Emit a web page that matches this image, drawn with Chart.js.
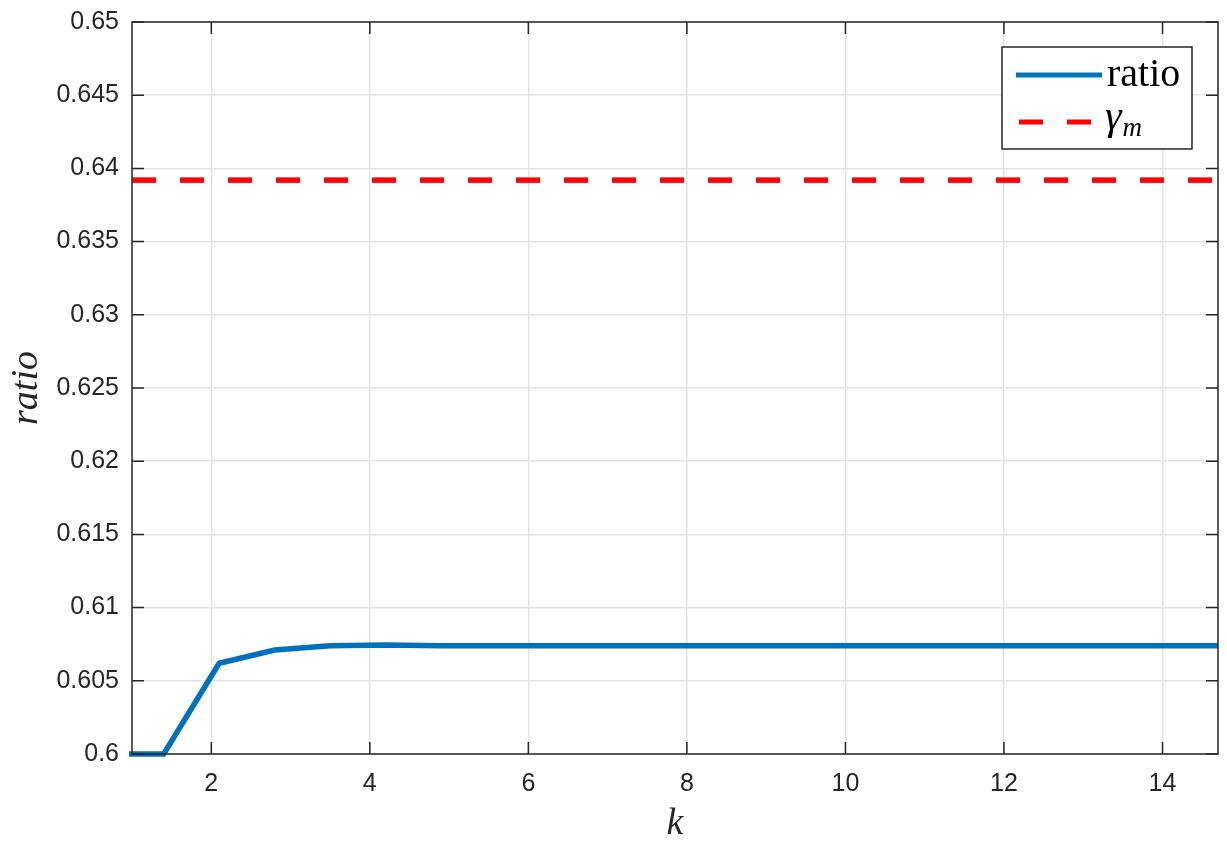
<!DOCTYPE html>
<html>
<head>
<meta charset="utf-8">
<script src="https://cdn.jsdelivr.net/npm/chart.js@4.4.0/dist/chart.umd.min.js"></script>
<style>
  html, body { margin: 0; padding: 0; background: #fff; }
</style>
</head>
<body>
<canvas id="ratioChart" width="1227" height="843"></canvas>
<script>
// chart data
const kValues = [0.7, 1.4, 2.1, 2.8, 3.5, 4.2, 4.9, 5.6, 6.3, 7.0, 7.7,
                 8.4, 9.1, 9.8, 10.5, 11.2, 11.9, 12.6, 13.3, 14.0, 14.7];
const ratioValues = [0.6, 0.6, 0.6062, 0.6071, 0.6074, 0.60745, 0.6074, 0.6074, 0.6074, 0.6074, 0.6074,
                     0.6074, 0.6074, 0.6074, 0.6074, 0.6074, 0.6074, 0.6074, 0.6074, 0.6074, 0.6074];
const gammaK = [1, 14.7];
const gammaValues = [0.6392, 0.6392];
const xTicks = [2, 4, 6, 8, 10, 12, 14];
const yTicks = [0.6, 0.605, 0.61, 0.615, 0.62, 0.625, 0.63, 0.635, 0.64, 0.645, 0.65];

const AXIS_COLOR = '#262626';
const BLUE = '#0072BD';
const RED = '#FF0000';

// box, inward ticks and legend, MATLAB style
const boxPlugin = {
    id: 'boxPlugin',
    afterDatasetsDraw(chart) {
        const ctx = chart.ctx;
        const { left, right, top, bottom } = chart.chartArea;
        const xs = chart.scales.x, ys = chart.scales.y;
        const tl = 12;

        ctx.save();
        ctx.strokeStyle = AXIS_COLOR;
        ctx.lineWidth = 1.5;
        ctx.strokeRect(left, top, right - left, bottom - top);

        ctx.beginPath();
        xTicks.forEach(v => {
            const px = xs.getPixelForValue(v);
            ctx.moveTo(px, bottom); ctx.lineTo(px, bottom - tl);
            ctx.moveTo(px, top); ctx.lineTo(px, top + tl);
        });
        yTicks.forEach(v => {
            const py = ys.getPixelForValue(v);
            ctx.moveTo(left, py); ctx.lineTo(left + tl, py);
            ctx.moveTo(right, py); ctx.lineTo(right - tl, py);
        });
        ctx.stroke();

        // legend box
        const lx = right - 216, ly = top + 25, lw = 190, lh = 102;
        ctx.fillStyle = '#fff';
        ctx.fillRect(lx, ly, lw, lh);
        ctx.strokeRect(lx, ly, lw, lh);

        ctx.lineWidth = 5;
        ctx.strokeStyle = BLUE;
        ctx.beginPath();
        ctx.moveTo(lx + 14, ly + 28); ctx.lineTo(lx + 100, ly + 28);
        ctx.stroke();

        ctx.strokeStyle = RED;
        ctx.setLineDash([24, 24]);
        ctx.beginPath();
        ctx.moveTo(lx + 17, ly + 75); ctx.lineTo(lx + 89, ly + 75);
        ctx.stroke();
        ctx.setLineDash([]);

        ctx.fillStyle = '#000';
        ctx.textBaseline = 'alphabetic';
        ctx.textAlign = 'left';
        ctx.font = '40px "Liberation Serif"';
        ctx.fillText('ratio', lx + 105, ly + 39);
        ctx.font = 'italic 42px "Liberation Serif"';
        ctx.fillText('γ', lx + 103, ly + 82);
        const gw = ctx.measureText('γ').width;
        ctx.font = 'italic 27px "Liberation Serif"';
        ctx.fillText('m', lx + 103 + gw + 1, ly + 89);
        ctx.restore();
    }
};

const ctx = document.getElementById('ratioChart').getContext('2d');
const chart = new Chart(ctx, {
    type: 'line',
    data: {
        datasets: [{
            label: 'ratio',
            data: kValues.map((k, i) => ({ x: k, y: ratioValues[i] })),
            borderColor: BLUE,
            borderWidth: 5.5,
            pointRadius: 0,
            tension: 0,
            clip: { left: 3, right: 5, top: 3, bottom: 3 }
        }, {
            label: 'γm',
            data: gammaK.map((k, i) => ({ x: k, y: gammaValues[i] })),
            borderColor: RED,
            borderWidth: 5.5,
            borderDash: [24, 24],
            pointRadius: 0,
            tension: 0
        }]
    },
    options: {
        responsive: false,
        animation: false,
        devicePixelRatio: 1,
        layout: { padding: { left: 0, top: 22, right: 9, bottom: 0 } },
        plugins: {
            legend: { display: false },
            tooltip: { enabled: false }
        },
        scales: {
            x: {
                type: 'linear',
                min: 1,
                max: 14.7,
                afterBuildTicks: scale => { scale.ticks = xTicks.map(v => ({ value: v })); },
                afterFit: scale => { scale.height = 89; },
                grid: { color: '#e3e3e3', lineWidth: 1.5, drawTicks: false },
                border: { display: false },
                ticks: {
                    padding: 15,
                    color: AXIS_COLOR,
                    font: { family: '"Liberation Sans"', size: 25 },
                    maxRotation: 0
                },
                title: {
                    display: true,
                    text: 'k',
                    color: AXIS_COLOR,
                    font: { family: '"Liberation Serif"', size: 38, style: 'italic', lineHeight: 1.0 },
                    padding: { top: 0, bottom: 0 }
                }
            },
            y: {
                min: 0.6,
                max: 0.65,
                afterBuildTicks: scale => { scale.ticks = yTicks.map(v => ({ value: v })); },
                afterFit: scale => {
                    scale.width = 132;
                    scale.paddingTop = 0;
                    scale.paddingBottom = 0;
                },
                grid: { color: '#e3e3e3', lineWidth: 1.5, drawTicks: false },
                border: { display: false },
                ticks: {
                    padding: 13,
                    color: AXIS_COLOR,
                    font: { family: '"Liberation Sans"', size: 25 },
                    callback: v => String(+v.toFixed(3))
                },
                title: {
                    display: true,
                    text: 'ratio',
                    color: AXIS_COLOR,
                    font: { family: '"Liberation Serif"', size: 38, style: 'italic' },
                    padding: { top: 4, bottom: 0 }
                }
            }
        }
    },
    plugins: [boxPlugin]
});
</script>
</body>
</html>
